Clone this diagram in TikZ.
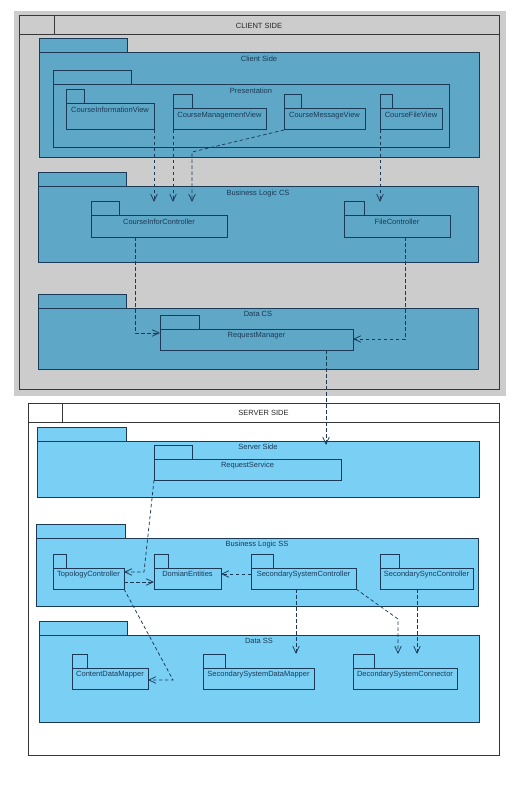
\documentclass[tikz,border=0pt]{standalone}
\usepackage{fontspec}
\setmainfont{Liberation Sans}
\usetikzlibrary{arrows.meta}

\definecolor{csfill}{RGB}{95,167,198}
\definecolor{ssfill}{RGB}{122,207,245}
\definecolor{pkgline}{RGB}{27,58,87}
\definecolor{framegray}{RGB}{204,204,204}
\definecolor{frameline}{RGB}{55,55,55}

\tikzset{
  pkgname/.style={anchor=north, inner sep=3.2pt, text=pkgline, font=\fontsize{7.5}{9}\selectfont},
  pkgbody/.style={draw=pkgline, line width=1pt, inner sep=0pt, outer sep=0pt, label={[pkgname]north:#1}},
  pkgtab/.style={draw=pkgline, line width=1pt, inner sep=0pt, outer sep=0pt, minimum height=14, anchor=south west},
  frame/.style={draw=frameline, line width=1pt, inner sep=0pt, outer sep=0pt, anchor=north west},
  framehead/.style={frame, minimum height=19, text=black!85, font=\fontsize{7.5}{9}\selectfont},
  dep/.style={draw=pkgline, line width=0.75pt, dash pattern=on 3.5pt off 2.5pt, -{Straight Barb[length=7pt, width=6.5pt]}}
}

\begin{document}
\begin{tikzpicture}[x=1pt, y=-1pt]
  \useasboundingbox (0,0) rectangle (530,786);

  % Client side frame on its gray ground
  \fill[framegray] (14,11) rectangle (506,396);
  \node[frame, minimum width=480, minimum height=373] (client) at (19,16) {};
  \node[framehead, minimum width=480] (client head) at (client.north west) {CLIENT SIDE};
  \node[framehead, minimum width=35] (client corner) at (client.north west) {};

  % Server side frame
  \node[frame, fill=white, minimum width=471, minimum height=352] (server) at (28,403) {};
  \node[framehead, minimum width=471] (server head) at (server.north west) {SERVER SIDE};
  \node[framehead, minimum width=34] (server corner) at (server.north west) {};

  % Client Side / Presentation
  \node[pkgbody=Client Side, fill=csfill, minimum width=440, minimum height=105] (clientside) at (259,105.5) {};
  \node[pkgtab, fill=csfill, minimum width=88] (clientside tab) at (clientside.north west) {};
  \node[pkgbody=Presentation, fill=csfill, minimum width=396, minimum height=63] (presentation) at (251,116.5) {};
  \node[pkgtab, fill=csfill, minimum width=78] (presentation tab) at (presentation.north west) {};
  \node[pkgbody=CourseInformationView, fill=csfill, minimum width=88, minimum height=26] (infoview) at (110,117) {};
  \node[pkgtab, fill=csfill, minimum width=18] (infoview tab) at (infoview.north west) {};
  \node[pkgbody=CourseManagementView, fill=csfill, minimum width=93, minimum height=21] (mgmtview) at (219.5,119.5) {};
  \node[pkgtab, fill=csfill, minimum width=19] (mgmtview tab) at (mgmtview.north west) {};
  \node[pkgbody=CourseMessageView, fill=csfill, minimum width=81, minimum height=21] (msgview) at (324.5,119.5) {};
  \node[pkgtab, fill=csfill, minimum width=17] (msgview tab) at (msgview.north west) {};
  \node[pkgbody=CourseFileView, fill=csfill, minimum width=62, minimum height=21] (fileview) at (411,119.5) {};
  \node[pkgtab, fill=csfill, minimum width=12] (fileview tab) at (fileview.north west) {};

  % Business Logic CS
  \node[pkgbody=Business Logic CS, fill=csfill, minimum width=440, minimum height=75] (blcs) at (258,224.5) {};
  \node[pkgtab, fill=csfill, minimum width=88] (blcs tab) at (blcs.north west) {};
  \node[pkgbody=CourseInforController, fill=csfill, minimum width=136, minimum height=21] (inforctrl) at (159,226.5) {};
  \node[pkgtab, fill=csfill, minimum width=28] (inforctrl tab) at (inforctrl.north west) {};
  \node[pkgbody=FileController, fill=csfill, minimum width=106, minimum height=21] (filectrl) at (397,226.5) {};
  \node[pkgtab, fill=csfill, minimum width=20] (filectrl tab) at (filectrl.north west) {};

  % Data CS
  \node[pkgbody=Data CS, fill=csfill, minimum width=440, minimum height=61] (datacs) at (258,338.5) {};
  \node[pkgtab, fill=csfill, minimum width=88] (datacs tab) at (datacs.north west) {};
  \node[pkgbody=RequestManager, fill=csfill, minimum width=193, minimum height=21] (reqmgr) at (256.5,339.5) {};
  \node[pkgtab, fill=csfill, minimum width=39] (reqmgr tab) at (reqmgr.north west) {};

  % Server Side
  \node[pkgbody=Server Side, fill=ssfill, minimum width=442, minimum height=56] (serverside) at (258,469) {};
  \node[pkgtab, fill=ssfill, minimum width=89] (serverside tab) at (serverside.north west) {};
  \node[pkgbody=RequestService, fill=ssfill, minimum width=187, minimum height=21] (reqservice) at (247.5,469.5) {};
  \node[pkgtab, fill=ssfill, minimum width=38] (reqservice tab) at (reqservice.north west) {};

  % Business Logic SS
  \node[pkgbody=Business Logic SS, fill=ssfill, minimum width=442, minimum height=68] (blss) at (257,572) {};
  \node[pkgtab, fill=ssfill, minimum width=89] (blss tab) at (blss.north west) {};
  \node[pkgbody=TopologyController, fill=ssfill, minimum width=71, minimum height=21] (topology) at (88.5,578.5) {};
  \node[pkgtab, fill=ssfill, minimum width=13] (topology tab) at (topology.north west) {};
  \node[pkgbody=DomianEntities, fill=ssfill, minimum width=67, minimum height=21] (domain) at (187.5,578.5) {};
  \node[pkgtab, fill=ssfill, minimum width=14] (domain tab) at (domain.north west) {};
  \node[pkgbody=SecondarySystemController, fill=ssfill, minimum width=105, minimum height=21] (secsysctrl) at (303.5,578.5) {};
  \node[pkgtab, fill=ssfill, minimum width=22] (secsysctrl tab) at (secsysctrl.north west) {};
  \node[pkgbody=SecondarySyncController, fill=ssfill, minimum width=93, minimum height=21] (secsyncctrl) at (426.5,578.5) {};
  \node[pkgtab, fill=ssfill, minimum width=19] (secsyncctrl tab) at (secsyncctrl.north west) {};

  % Data SS
  \node[pkgbody=Data SS, fill=ssfill, minimum width=440, minimum height=87] (datass) at (259,678.5) {};
  \node[pkgtab, fill=ssfill, minimum width=88] (datass tab) at (datass.north west) {};
  \node[pkgbody=ContentDataMapper, fill=ssfill, minimum width=76, minimum height=21] (contentmapper) at (110,678.5) {};
  \node[pkgtab, fill=ssfill, minimum width=15] (contentmapper tab) at (contentmapper.north west) {};
  \node[pkgbody=SecondarySystemDataMapper, fill=ssfill, minimum width=111, minimum height=21] (secsysmapper) at (258.5,678.5) {};
  \node[pkgtab, fill=ssfill, minimum width=22] (secsysmapper tab) at (secsysmapper.north west) {};
  \node[pkgbody=DecondarySystemConnector, fill=ssfill, minimum width=104, minimum height=21] (connector) at (405,678.5) {};
  \node[pkgtab, fill=ssfill, minimum width=21] (connector tab) at (connector.north west) {};

  % Bend points of the dependencies
  \coordinate (msgbend) at (192,152);
  \coordinate (inforbend) at (135,333);
  \coordinate (filebend) at (405,339);
  \coordinate (reqline) at (326,400);
  \coordinate (servicebend) at (144,572);
  \coordinate (topodomain) at (140,582);
  \coordinate (secdomain) at (236,574);
  \coordinate (topobend) at (173,680);
  \coordinate (mapperline) at (296,620);
  \coordinate (secbend) at (398,619);
  \coordinate (syncline) at (417,620);

  % Dependencies, client side
  \draw[dep] (infoview.south east) -- (infoview.south east |- inforctrl tab.north);
  \draw[dep] (mgmtview.south west) -- (mgmtview.south west |- inforctrl tab.north);
  \draw[dep] (msgview.south west) -- (msgbend) -- (msgbend |- inforctrl tab.north);
  \draw[dep] (fileview.south west) -- (fileview.south west |- filectrl tab.north);
  \draw[dep] (inforbend |- inforctrl.south) -- (inforbend) -- (inforbend -| reqmgr.west);
  \draw[dep] (filebend |- filectrl.south) -- (filebend) -- (filebend -| reqmgr.east);
  \draw[dep] (reqline |- reqmgr.south) -- (reqline |- reqservice tab.north);

  % Dependencies, server side
  \draw[dep] (reqservice.south west) -- (servicebend) -- (servicebend -| topology.east);
  \draw[dep] (topodomain -| topology.east) -- (topodomain -| domain.west);
  \draw[dep] (secdomain -| secsysctrl.west) -- (secdomain -| domain.east);
  \draw[dep] (topology.south east) -- (topobend) -- (topobend -| contentmapper.east);
  \draw[dep] (mapperline |- secsysctrl.south) -- (mapperline |- secsysmapper tab.north);
  \draw[dep] (secsysctrl.south east) -- (secbend) -- (secbend |- connector tab.north);
  \draw[dep] (syncline |- secsyncctrl.south) -- (syncline |- connector tab.north);
\end{tikzpicture}
\end{document}
